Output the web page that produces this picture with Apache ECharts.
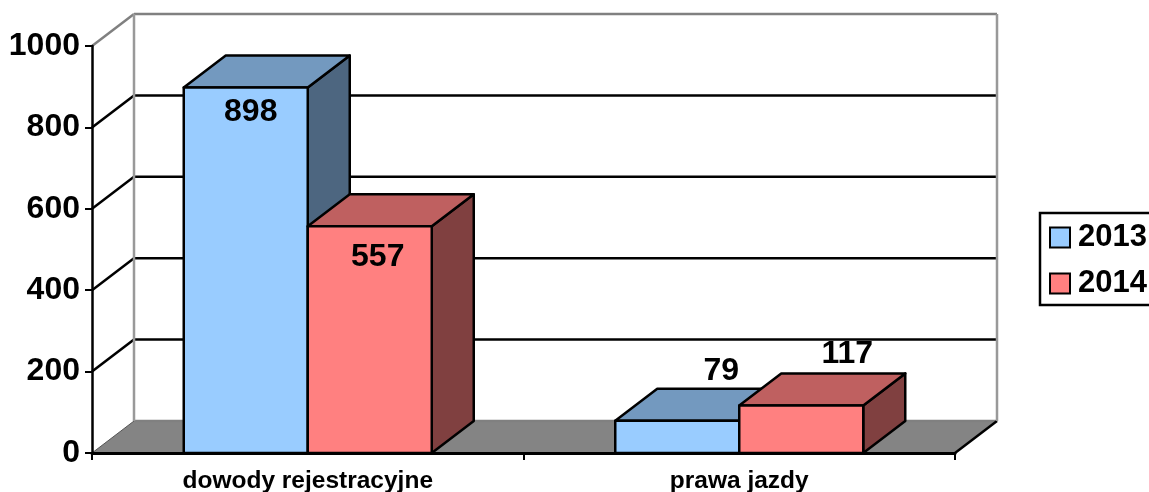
<!DOCTYPE html>
<html><head><meta charset="utf-8">
<style>html,body{margin:0;padding:0;background:#fff}#c{width:1149px;height:492px}</style>
<script src="https://cdn.jsdelivr.net/npm/echarts@6/dist/echarts.min.js"></script>
</head><body><div id="c"></div>
<script>
var categories = ['dowody rejestracyjne', 'prawa jazdy'];
var values2013 = [898, 79];
var values2014 = [557, 117];
var yTicks = [0, 200, 400, 600, 800, 1000];

var FONT = '"Liberation Sans", Arial, sans-serif';
var DX = 42, DY = -32;
var BAR_RATIO = 124 / 431.5;
var labelShift2013 = [[5, 25], [44, -50]];
var labelShift2014 = [[8, 31], [46, -51]];

function poly(points, fill, stroke, lw) {
  return { type: 'polygon', shape: { points: points },
    style: { fill: fill, stroke: stroke, lineWidth: lw, lineJoin: 'round' } };
}
function seg(a, b, stroke, lw) {
  return { type: 'line', shape: { x1: a[0], y1: a[1], x2: b[0], y2: b[1] },
    style: { stroke: stroke, lineWidth: lw } };
}

function renderWall(params, api) {
  var v = api.value(1);
  var rect = params.coordSys;
  var l = rect.x, r = rect.x + rect.width;
  var y = api.coord([0, v])[1];
  var ch = [];
  if (v === 0) {
    ch.push(poly([[l, y], [l + DX, y + DY], [r + DX, y + DY], [r, y]], '#848484', null, 0));
    ch.push(seg([l, y], [l + DX, y + DY], '#555555', 1));
    ch.push(seg([l + DX, y + DY], [r + DX, y + DY], '#808080', 2.5));
    ch.push(seg([r, y], [r + DX, y + DY], '#000000', 2.5));
  } else {
    var c = v === 1000 ? '#808080' : '#000000';
    ch.push(seg([l, y], [l + DX, y + DY], c, 2.5));
    ch.push(seg([l + DX, y + DY], [r + DX, y + DY], c, 2.5));
    if (v === 1000) {
      var y0 = api.coord([0, 0])[1];
      ch.push(seg([l + DX, y + DY], [l + DX, y0 + DY], '#999999', 2.5));
      ch.push(seg([r + DX, y + DY], [r + DX, y0 + DY], '#999999', 2.5));
    }
  }
  return { type: 'group', children: ch };
}

function makeBar(seriesOffset, front, top, side, shifts) {
  return function (params, api) {
    var i = api.value(0), v = api.value(1);
    var band = api.size([1, 0])[0];
    var w = band * BAR_RATIO;
    var cx = api.coord([i, 0])[0];
    var y0 = api.coord([i, 0])[1];
    var y1 = api.coord([i, v])[1];
    var x0 = cx + seriesOffset * w, x1 = x0 + w;
    var k = 2.5;
    return { type: 'group', children: [
      poly([[x1, y1], [x1 + DX, y1 + DY], [x1 + DX, y0 + DY], [x1, y0]], side, '#000', k),
      poly([[x0, y1], [x0 + DX, y1 + DY], [x1 + DX, y1 + DY], [x1, y1]], top, '#000', k),
      poly([[x0, y1], [x1, y1], [x1, y0], [x0, y0]], front, '#000', k),
      { type: 'text', z2: 50, style: {
          x: (x0 + x1) / 2 + shifts[i][0], y: y1 + shifts[i][1],
          text: String(v), fill: '#000', font: 'bold 32px ' + FONT,
          align: 'center', verticalAlign: 'middle' } }
    ] };
  };
}

var chart = echarts.init(document.getElementById('c'), null, { renderer: 'canvas' });
chart.setOption({
  animation: false,
  backgroundColor: '#fff',
  grid: { left: 92, right: 194, top: 46, bottom: 39, outerBoundsMode: 'none' },
  legend: {
    data: ['2013', '2014'], orient: 'vertical', left: 1040, top: 213,
    padding: [9, 14, 6, 9], itemWidth: 20, itemHeight: 20, itemGap: 15,
    icon: 'rect', backgroundColor: '#fff', borderColor: '#000', borderWidth: 2.5,
    selectedMode: false,
    textStyle: { fontFamily: FONT, fontWeight: 'bold', fontSize: 31, color: '#000', padding: [0, 0, 0, 3] }
  },
  xAxis: {
    type: 'category', data: categories, z: 6,
    axisLine: { lineStyle: { color: '#000', width: 3 } },
    axisTick: { show: true, length: 7, lineStyle: { color: '#000', width: 2 } },
    axisLabel: { fontFamily: FONT, fontWeight: 'bold', fontSize: 24.5, color: '#000', margin: 16 }
  },
  yAxis: {
    type: 'value', min: 0, max: 1000, interval: 200, z: 6,
    axisLine: { show: true, lineStyle: { color: '#000', width: 2.5 } },
    axisTick: { show: true, length: 7, lineStyle: { color: '#000', width: 2 } },
    splitLine: { show: false },
    axisLabel: { fontFamily: FONT, fontWeight: 'bold', fontSize: 32, color: '#000', margin: 12,
      formatter: function (v) { return String(v); } }
  },
  series: [
    { type: 'custom', name: 'walls', renderItem: renderWall, clip: false, silent: true,
      data: yTicks.map(function (t) { return [0, t]; }) },
    { type: 'custom', name: '2013', clip: false,
      renderItem: makeBar(-1, '#99CCFF', '#7399BF', '#4D6680', labelShift2013),
      itemStyle: { color: '#99CCFF', borderColor: '#000', borderWidth: 2.5 },
      data: values2013.map(function (v, i) { return [i, v]; }) },
    { type: 'custom', name: '2014', clip: false,
      renderItem: makeBar(0, '#FF8080', '#BF6060', '#804040', labelShift2014),
      itemStyle: { color: '#FF8080', borderColor: '#000', borderWidth: 2.5 },
      data: values2014.map(function (v, i) { return [i, v]; }) }
  ]
});
</script></body></html>
